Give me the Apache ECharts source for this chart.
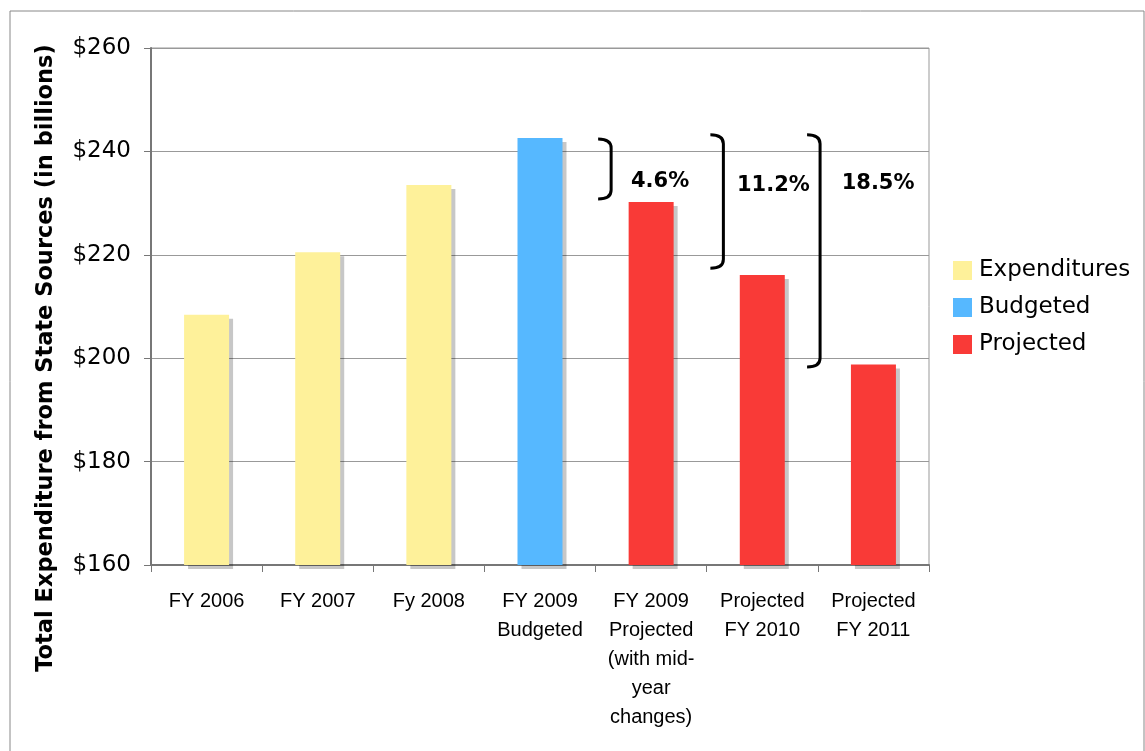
<!DOCTYPE html>
<html>
<head>
<meta charset="utf-8">
<script src="https://cdn.jsdelivr.net/npm/echarts@6/dist/echarts.min.js"></script>
<style>html,body{margin:0;padding:0;background:#fff}#c{width:1145px;height:751px}</style>
</head>
<body>
<div id="c"></div>
<script>
// ---- data ----
const categories = ['FY 2006', 'FY 2007', 'Fy 2008', 'FY 2009\nBudgeted',
  'FY 2009\nProjected\n(with mid-\nyear\nchanges)', 'Projected\nFY 2010', 'Projected\nFY 2011'];
const expenditures = [208.4, 220.5, 233.5, '-', '-', '-', '-'];
const budgeted     = ['-', '-', '-', 242.6, '-', '-', '-'];
const projected    = ['-', '-', '-', '-', 230.2, 216.1, 198.8];
const yTicks = { min: 160, max: 260, interval: 20 };
const yTitle = 'Total Expenditure from State Sources (in billions)';
// brackets: [category index, top value, bottom value]
const bracketData = [[4, 242.4, 230.8], [5, 243.2, 217.4], [6, 243.2, 198.3]];
const bracketLabels = ['4.6%', '11.2%', '18.5%'];

// ---- styling/placement of annotations ----
const bracketShift = [-0.36, -0.35, -0.48];   // fraction of band width
const labelDx = [49, 50, 58];
const labelDy = [43, 51, 49];

const chart = echarts.init(document.getElementById('c'), null, { renderer: 'canvas' });
const shadow = { shadowColor: 'rgba(0,0,0,0.22)', shadowOffsetX: 4, shadowOffsetY: 4, shadowBlur: 0 };

chart.setOption({
  animation: false,
  backgroundColor: '#fff',
  grid: { left: 151, right: 216, top: 48, bottom: 186, show: true, borderColor: '#999', borderWidth: 1, backgroundColor: 'transparent' },
  legend: {
    data: ['Expenditures', 'Budgeted', 'Projected'],
    orient: 'vertical', left: 953, top: 259, padding: 0,
    itemWidth: 19, itemHeight: 19, itemGap: 14, icon: 'rect',
    textStyle: { fontFamily: 'DejaVu Sans', fontSize: 23, color: '#000', padding: [0, 0, 0, 2] }
  },
  xAxis: {
    type: 'category', data: categories,
    axisLine: { lineStyle: { color: '#777', width: 2 } },
    axisTick: { show: true, length: 7, lineStyle: { color: '#777' } },
    axisLabel: { interval: 0, fontFamily: 'Liberation Sans', fontSize: 20, lineHeight: 29, color: '#000', margin: 22 }
  },
  yAxis: {
    type: 'value', min: yTicks.min, max: yTicks.max, interval: yTicks.interval,
    axisLine: { show: true, lineStyle: { color: '#777', width: 2 } },
    axisTick: { show: true, length: 7, lineStyle: { color: '#777' } },
    splitLine: { lineStyle: { color: '#999', width: 1 } },
    axisLabel: { formatter: v => '$' + v, fontFamily: 'DejaVu Sans', fontSize: 23, color: '#000', margin: 20 }
  },
  graphic: [
    { type: 'rect', shape: { x: 10, y: 11, width: 1134, height: 800 }, style: { fill: null, stroke: '#888', lineWidth: 1 }, silent: true },
    { type: 'text', x: 46, y: 358, rotation: Math.PI / 2,
      style: { text: yTitle, align: 'center', verticalAlign: 'middle', fontFamily: 'DejaVu Sans', fontWeight: 'bold', fontSize: 22.5, fill: '#000' } }
  ],
  series: [
    { name: 'Expenditures', type: 'bar', stack: 'a', barWidth: 45, data: expenditures, itemStyle: Object.assign({ color: '#FEF19A' }, shadow) },
    { name: 'Budgeted', type: 'bar', stack: 'a', barWidth: 45, data: budgeted, itemStyle: Object.assign({ color: '#56B8FF' }, shadow) },
    { name: 'Projected', type: 'bar', stack: 'a', barWidth: 45, data: projected, itemStyle: Object.assign({ color: '#F93A37' }, shadow) },
    {
      name: 'brackets', type: 'custom', data: bracketData, z: 5,
      renderItem: function (params, api) {
        const i = params.dataIndex;
        const top = api.coord([api.value(0), api.value(1)]);
        const bot = api.coord([api.value(0), api.value(2)]);
        const band = api.size([1, 0])[0];
        const x = top[0] + bracketShift[i] * band;
        const w = 13, r = 9;
        const y1 = top[1], y2 = bot[1];
        const d = 'M' + (x - w) + ' ' + y1 + ' Q' + x + ' ' + y1 + ' ' + x + ' ' + (y1 + r) +
          ' L' + x + ' ' + (y2 - r) + ' Q' + x + ' ' + y2 + ' ' + (x - w) + ' ' + y2;
        return {
          type: 'group',
          children: [
            { type: 'path', shape: { pathData: d }, style: { fill: null, stroke: '#000', lineWidth: 3 } },
            { type: 'text', style: { text: bracketLabels[i], x: x + labelDx[i], y: y1 + labelDy[i], align: 'center', verticalAlign: 'middle',
                fontFamily: 'DejaVu Sans', fontWeight: 'bold', fontSize: 21, fill: '#000' } }
          ]
        };
      }
    }
  ]
});
</script>
</body>
</html>
